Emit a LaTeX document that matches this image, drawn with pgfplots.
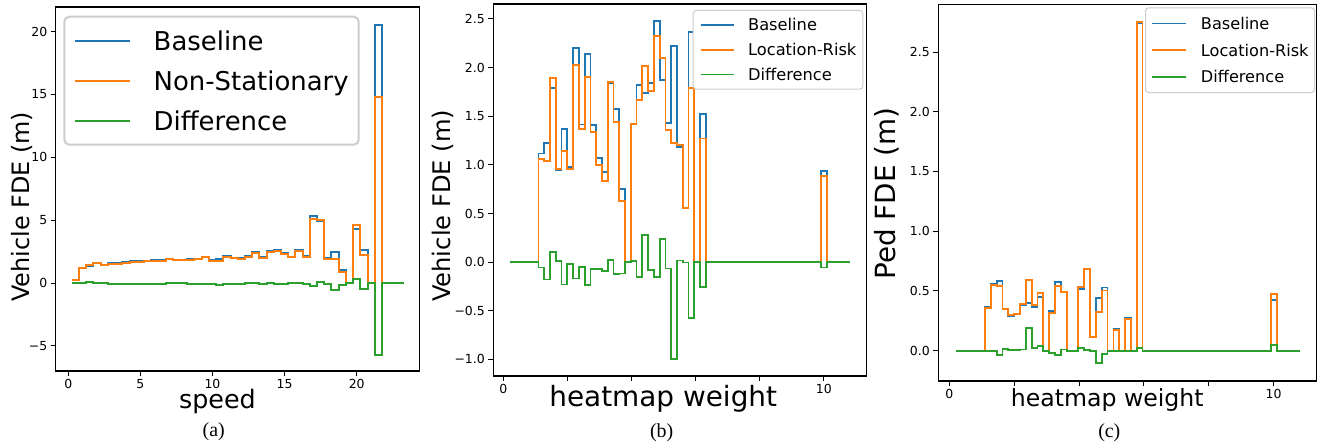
\documentclass[border=0pt]{standalone}
\usepackage{pgfplots}
\pgfplotsset{compat=1.18}
\usepackage{pgfplotstable}
\usepackage{fontspec}
\setmainfont{DejaVu Sans}
\newfontfamily\capfont{Liberation Serif}
\definecolor{cblue}{HTML}{1F77B4}
\definecolor{corange}{HTML}{FF7F0E}
\definecolor{cgreen}{HTML}{2CA02C}
\definecolor{lgframe}{HTML}{CCCCCC}
\newcommand\fs[1]{\fontsize{#1}{#1}\selectfont}

% speed bins (a): x = left edge of each step
\pgfplotstableread{
x b o d
0.25 0.27 0.27 0.02
0.75 1.22 1.22 0.00
1.25 1.38 1.41 0.06
1.75 1.57 1.59 0.04
2.25 1.42 1.41 -0.02
2.75 1.57 1.51 -0.07
3.25 1.59 1.51 -0.08
3.75 1.66 1.56 -0.09
4.25 1.78 1.67 -0.11
4.75 1.76 1.70 -0.06
5.25 1.78 1.72 -0.06
5.75 1.81 1.73 -0.08
6.25 1.80 1.72 -0.08
6.75 1.88 1.88 0.00
7.25 1.80 1.80 0.00
7.75 1.84 1.81 -0.03
8.25 1.95 1.85 -0.10
8.75 1.95 1.89 -0.06
9.25 2.10 2.05 -0.05
9.75 1.86 1.75 -0.11
10.25 1.90 1.77 -0.13
10.75 2.15 2.09 -0.06
11.25 2.01 1.96 -0.05
11.75 1.99 1.89 -0.10
12.25 2.12 2.09 -0.03
12.75 2.43 2.41 -0.02
13.25 2.04 1.96 -0.08
13.75 2.51 2.49 -0.02
14.25 2.60 2.55 -0.05
14.75 2.36 2.28 -0.08
15.25 2.06 2.04 -0.02
15.75 2.60 2.57 -0.03
16.25 2.15 2.10 -0.05
16.75 5.30 5.08 -0.22
17.25 4.92 5.02 0.10
17.75 1.96 1.88 -0.08
18.25 2.44 1.88 -0.56
18.75 1.01 0.85 -0.16
19.25 0.00 0.00 0.04
19.75 4.30 4.59 0.29
20.25 2.66 2.19 -0.47
20.75 0.00 0.00 0.00
21.25 20.55 14.82 -5.73
21.75 0.00 0.00 0.00
23.25 0.00 0.00 0.00
}\tabA

% heatmap weight bins (b), vehicle
\pgfplotstableread{
x b o d
0.20 0 0 0
1.10 1.118 1.060 -0.055
1.28 1.221 1.042 -0.178
1.46 1.790 1.893 0.106
1.64 0.946 0.957 0.014
1.82 1.372 1.139 -0.230
2.00 0.980 0.957 -0.020
2.18 2.198 2.027 -0.168
2.36 1.416 1.365 -0.048
2.54 2.143 1.903 -0.237
2.72 1.410 1.337 -0.072
2.90 1.073 1.001 -0.072
3.08 0.929 0.833 -0.093
3.26 1.838 1.855 0.020
3.44 1.574 1.444 -0.123
3.62 0.751 0.628 -0.117
3.80 0 0 0.005
3.98 1.417 1.417 0.010
4.16 1.821 1.667 -0.151
4.34 1.742 2.016 0.278
4.52 1.845 1.759 -0.082
4.70 2.483 2.328 -0.151
4.88 1.872 2.102 0.237
5.06 1.427 1.358 -0.065
5.24 2.225 1.227 -0.998
5.42 1.186 1.204 0.017
5.60 0.559 0.559 -0.003
5.78 2.370 1.794 -0.573
5.96 0 0 0
6.14 1.526 1.272 -0.254
6.32 0 0 0
9.92 0.939 0.885 -0.055
10.10 0 0 0
10.82 0 0 0
}\tabB

% heatmap weight bins (c), pedestrians
\pgfplotstableread{
x b o d
0.20 0 0 0
1.10 0.363 0.357 -0.005
1.28 0.558 0.550 0.000
1.46 0.583 0.544 -0.036
1.64 0.349 0.346 0.011
1.82 0.293 0.299 0.005
2.00 0.304 0.304 0.005
2.18 0.382 0.388 0.010
2.36 0.402 0.592 0.193
2.54 0.368 0.382 0.020
2.72 0.452 0.486 0.039
2.90 0 0 0
3.08 0.335 0.318 -0.022
3.26 0.578 0.544 -0.036
3.44 0.489 0.489 0.010
3.62 0 0 0
3.98 0.514 0.530 0.020
4.16 0.681 0.681 0.005
4.34 0.117 0.117 0
4.52 0.438 0.327 -0.106
4.70 0.528 0.503 -0.031
4.88 0 0 0
5.06 0.184 0.176 -0.005
5.24 0 0 0
5.42 0.274 0.268 -0.005
5.60 0 0 0
5.78 2.742 2.753 0.020
5.96 0 0 0
9.92 0.425 0.475 0.048
10.10 0 0 0
10.82 0 0 0
}\tabC

\newlength\handlen
\pgfplotsset{
  fde/.style={
    scale only axis, anchor=south west,
    axis line style={line width=1.1bp, black},
    tick align=outside, major tick length=5bp,
    tick style={black, line width=1bp},
    tick pos=left,
    tick label style={font=\fs{12.5}},
    const plot, no markers,
    legend cell align=left,
    clip=true,
  },
  hand/.style={legend image code/.code={\draw[##1, line width=#1] (0bp,0bp) -- (\handlen,0bp);}},
}

\begin{document}
\begin{tikzpicture}
% (a)
\setlength\handlen{55bp}
\begin{axis}[fde, at={(55.7bp,76bp)}, width=363.6bp, height=364bp,
  xmin=-0.87, xmax=24.34, ymin=-7.0, ymax=21.96,
  xtick={0,5,10,15,20}, xticklabels={0,5,10,15,20},
  ytick={-5,0,5,10,15,20}, yticklabels={−5,0,5,10,15,20},
  xlabel={speed}, ylabel={Vehicle FDE (m)},
  xlabel style={font=\fs{25.5}, at={(axis description cs:0.445,-0.084)}, anchor=center},
  ylabel style={font=\fs{24}, at={(axis description cs:-0.0935,0.451)}, anchor=center},
  every axis plot/.append style={line width=2bp},
  hand=2bp,
  legend style={at={(axis description cs:0.021,0.976)}, anchor=north west,
    draw=lgframe, line width=2bp, rounded corners=5bp, fill=white,
    font=\fs{26}, inner xsep=10bp, inner ysep=4bp,
    nodes={inner sep=0bp, text height=29.4bp, text depth=10.6bp},
    /tikz/every odd column/.append style={column sep=22.4bp}},
]
\addplot[cblue] table[x=x,y=b] {\tabA};
\addlegendentry{Baseline}
\addplot[corange] table[x=x,y=o] {\tabA};
\addlegendentry{Non-Stationary}
\addplot[cgreen] table[x=x,y=d] {\tabA};
\addlegendentry{Difference}
\end{axis}

% (b)
\setlength\handlen{33.3bp}
\begin{axis}[fde, at={(493.3bp,71bp)}, width=373.4bp, height=372bp,
  xmin=-0.31, xmax=11.34, ymin=-1.17, ymax=2.654,
  xtick={0,2,4,6,8,10}, xticklabels={0,,,,,10},
  ytick={-1,-0.5,0,0.5,1,1.5,2,2.5}, yticklabels={−1.0,−0.5,0.0,0.5,1.0,1.5,2.0,2.5},
  xlabel={heatmap weight}, ylabel={Vehicle FDE (m)},
  xlabel style={font=\fs{28}, at={(axis description cs:0.455,-0.062)}, anchor=center},
  ylabel style={font=\fs{24.3}, at={(axis description cs:-0.1347,0.4575)}, anchor=center},
  every axis plot/.append style={line width=1.8bp},
  hand=1.8bp,
  legend style={at={(axis description cs:0.991,0.984)}, anchor=north east,
    draw=lgframe, line width=1bp, rounded corners=3bp, fill=white,
    font=\fs{16.3}, inner xsep=6.5bp, inner ysep=2.3bp,
    nodes={inner sep=0bp, text height=18.2bp, text depth=6.5bp},
    /tikz/every odd column/.append style={column sep=13.3bp}},
]
\addplot[cblue] table[x=x,y=b] {\tabB};
\addlegendentry{Baseline}
\addplot[corange] table[x=x,y=o] {\tabB};
\addlegendentry{Location-Risk}
\addplot[cgreen] table[x=x,y=d] {\tabB};
\addlegendentry{Difference}
\end{axis}

% (c)
\setlength\handlen{34bp}
\begin{axis}[fde, at={(938.3bp,66bp)}, width=378.4bp, height=376.7bp,
  xmin=-0.34, xmax=11.33, ymin=-0.254, ymax=2.90,
  xtick={0,2,4,6,8,10}, xticklabels={0,,,,,10},
  ytick={0,0.5,1,1.5,2,2.5}, yticklabels={0.0,0.5,1.0,1.5,2.0,2.5},
  xlabel={heatmap weight}, ylabel={Ped FDE (m)},
  xlabel style={font=\fs{23.7}, at={(axis description cs:0.4466,-0.050)}, anchor=center},
  ylabel style={font=\fs{27.9}, at={(axis description cs:-0.1364,0.498)}, anchor=center},
  every axis plot/.append style={line width=1.8bp},
  hand=1.8bp,
  legend style={at={(axis description cs:0.9955,0.992)}, anchor=north east,
    draw=lgframe, line width=1bp, rounded corners=3bp, fill=white,
    font=\fs{16.2}, inner xsep=6bp, inner ysep=2.3bp,
    nodes={inner sep=0bp, text height=19.2bp, text depth=7.5bp},
    /tikz/every odd column/.append style={column sep=13.6bp}},
]
\addplot[cblue] table[x=x,y=b] {\tabC};
\addlegendentry{Baseline}
\addplot[corange] table[x=x,y=o] {\tabC};
\addlegendentry{Location-Risk}
\addplot[cgreen] table[x=x,y=d] {\tabC};
\addlegendentry{Difference}
\end{axis}

\node[font=\capfont\fs{20}] at (213.8bp,15bp) {(a)};
\node[font=\capfont\fs{20}] at (661.7bp,14.7bp) {(b)};
\node[font=\capfont\fs{20}] at (1109.3bp,14.7bp) {(c)};

\pgfresetboundingbox
\path (0bp,0bp) rectangle (1326bp,447bp);
\end{tikzpicture}
\end{document}
